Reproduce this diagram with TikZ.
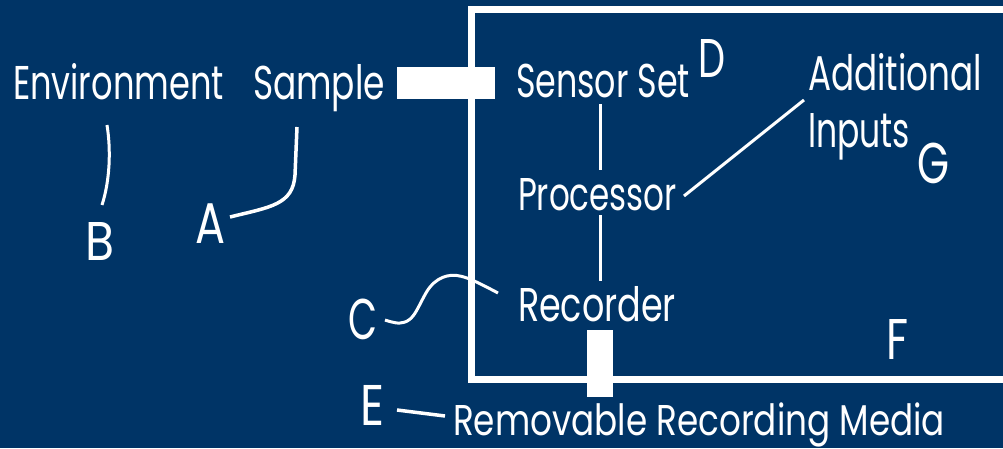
\documentclass[tikz,border=0pt]{standalone}
\usepackage{fontspec}
\usepackage{graphicx}
\newfontfamily\lf{Poppins}
\definecolor{bg}{RGB}{0,52,102}
\newsavebox\fitbox
\newsavebox\capbox
\newcommand\fit[3]{%
  \sbox\fitbox{\lf\fontsize{40}{48}\selectfont #3}%
  \sbox\capbox{\lf\fontsize{40}{48}\selectfont H}%
  \edef\fitw{\the\wd\fitbox}\edef\fith{\the\ht\capbox}%
  \pgfmathsetmacro\fitsx{#1/\fitw}%
  \pgfmathsetmacro\fitsy{#2/\fith}%
  \scalebox{\fitsx}[\fitsy]{\usebox\fitbox}}
\tikzset{
  txt/.style={anchor=base west, inner sep=0pt, outer sep=0pt, text=white},
  conn/.style={draw=white, line width=3pt},
  frame/.style={draw=white, line width=7pt, line join=miter},
  bar/.style={fill=white, inner sep=0pt, outer sep=0pt}
}
\begin{document}
\begin{tikzpicture}[x=1pt, y=-1pt]
\useasboundingbox (0,0) rectangle (1003,448);
\fill[bg] (0,0) rectangle (1003,448);
% enclosure
\coordinate (ftr) at (1015,9.5);
\coordinate (fbr) at (1015,379);
\draw[frame] (ftr) -| (471,379) -- (fbr);
% ports
\node[bar, minimum width=98pt, minimum height=32pt] (port) at (446,83) {};
\node[bar, minimum width=26pt, minimum height=67pt] (mport) at (600,363.5) {};
% texts
\node[txt] (env) at (13,99) {\fit{211}{33}{Environment}};
\node[txt] (sample) at (253,99) {\fit{132}{33}{Sample}};
\node[txt] (sensor) at (516,97) {\fit{174}{33}{Sensor Set}};
\node[txt] (proc) at (518,210) {\fit{159}{32}{Processor}};
\node[txt] (rec) at (518,321) {\fit{158}{33}{Recorder}};
\node[txt] (addl) at (808,90) {\fit{174}{34}{Additional}};
\node[txt] (inputs) at (808,147) {\fit{102}{34}{Inputs}};
\node[txt] (media) at (453,435) {\fit{492}{30}{Removable Recording Media}};
% letters
\node[txt] (A) at (195,243) {\fit{30}{40}{A}};
\node[txt] (B) at (85,260) {\fit{29}{38}{B}};
\node[txt] (C) at (348,339) {\fit{29}{40}{C}};
\node[txt] (D) at (698,77) {\fit{27}{38}{D}};
\node[txt] (E) at (360,425) {\fit{24}{40}{E}};
\node[txt] (F) at (886,359) {\fit{22}{40}{F}};
\node[txt] (G) at (917,183) {\fit{32}{40}{G}};
% connector end points
\coordinate (s1) at (600,104);
\coordinate (p1) at (600,170);
\coordinate (p2) at (600,215);
\coordinate (r1) at (600,281);
\coordinate (p3) at (684,196);
\coordinate (a1) at (804,100);
\coordinate (e1) at (107,125);
\coordinate (b1) at (102,205);
\coordinate (sa1) at (297,127);
\coordinate (sa2) at (295,175);
\coordinate (aa) at (230,217);
\coordinate (c1) at (385,320);
\coordinate (c2) at (498,293);
\coordinate (m1) at (397,410);
\coordinate (m2) at (445,416);
% connectors
\draw[conn] (s1) -- (p1);
\draw[conn] (p2) -- (r1);
\draw[conn] (p3) -- (a1);
\draw[conn] (e1) .. controls (111,150) and (110,180) .. (b1);
\draw[conn, line width=3.5pt] (sa1) -- (sa2) .. controls (293,205) and (270,207) .. (aa);
\draw[conn] plot[smooth, tension=0.6] coordinates {(c1) (400,323) (413,316) (430,287) (447,276) (467,278) (c2)};
\draw[conn, line width=3.5pt] (m1) -- (m2);
\end{tikzpicture}
\end{document}
